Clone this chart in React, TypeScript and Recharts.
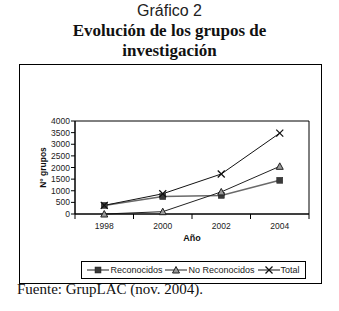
import React from 'react';
import { LineChart, Line, XAxis, YAxis, ReferenceArea, Legend } from 'recharts';

const YEARS = [1998, 2000, 2002, 2004];
const RECONOCIDOS = [370, 750, 800, 1450];
const NO_RECONOCIDOS = [0, 100, 950, 2050];
const TOTAL = [370, 870, 1720, 3480];
const Y_TICKS = [0, 500, 1000, 1500, 2000, 2500, 3000, 3500, 4000];

const SERIES = [
  { key: 'rec', name: 'Reconocidos', color: '#6a6a6a', width: 1.5, marker: 'square' },
  { key: 'norec', name: 'No Reconocidos', color: '#222', width: 1, marker: 'triangle' },
  { key: 'total', name: 'Total', color: '#111', width: 1, marker: 'cross' },
];

const data = YEARS.map((year, i) => ({
  year,
  rec: RECONOCIDOS[i],
  norec: NO_RECONOCIDOS[i],
  total: TOTAL[i],
}));

// year labels sit in the middle of each band, tick marks on the band edges
const X_TICKS: number[] = [];
for (let y = YEARS[0] - 1; y <= YEARS[YEARS.length - 1] + 1; y++) X_TICKS.push(y);

const font = '"Liberation Sans", Arial, sans-serif';

const Marker = ({ kind, cx, cy }: { kind: string; cx: number; cy: number }) => {
  if (kind === 'square') {
    return <rect x={cx - 3} y={cy - 3} width={6} height={6} fill="#3a3a3a" stroke="#222" strokeWidth={0.5} />;
  }
  if (kind === 'triangle') {
    return (
      <polygon
        points={`${cx},${cy - 3.5} ${cx - 3.5},${cy + 3} ${cx + 3.5},${cy + 3}`}
        fill="#999"
        stroke="#222"
        strokeWidth={1}
      />
    );
  }
  return (
    <g stroke="#111" strokeWidth={1.2}>
      <line x1={cx - 3.5} y1={cy - 3.5} x2={cx + 3.5} y2={cy + 3.5} />
      <line x1={cx - 3.5} y1={cy + 3.5} x2={cx + 3.5} y2={cy - 3.5} />
    </g>
  );
};

const XTick = (props: any) => {
  const { x, y, payload } = props;
  if (YEARS.includes(payload.value)) {
    return (
      <text x={x} y={y + 14.5} textAnchor="middle" fontSize={8.5} fontFamily={font} fill="#222">
        {payload.value}
      </text>
    );
  }
  return <line x1={x} y1={y} x2={x} y2={y + 5} stroke="#000" />;
};

const LegendBox = () => (
  <div
    style={{
      border: '1px solid #000',
      width: 223,
      height: 16,
      display: 'flex',
      alignItems: 'center',
      justifyContent: 'center',
      gap: 3,
      fontFamily: font,
      fontSize: 9,
      color: '#222',
      background: '#fff',
    }}
  >
    {SERIES.map((s) => (
      <span key={s.key} style={{ display: 'flex', alignItems: 'center', gap: 1 }}>
        <svg width={22} height={10}>
          <line x1={0} y1={5} x2={22} y2={5} stroke={s.color} strokeWidth={s.width} />
          <Marker kind={s.marker} cx={11} cy={5} />
        </svg>
        {s.name}
      </span>
    ))}
  </div>
);

export default function App() {
  return (
    <div style={{ position: 'absolute', left: 0, top: 0, width: 339, height: 311, background: '#fff' }}>
      <div
        style={{
          position: 'absolute',
          top: 2.5,
          width: 339,
          textAlign: 'center',
          fontFamily: font,
          fontSize: 16,
          lineHeight: '16px',
          color: '#222',
        }}
      >
        Gráfico 2
      </div>
      <div
        style={{
          position: 'absolute',
          top: 21,
          left: 0,
          width: 339,
          textAlign: 'center',
          fontFamily: '"Liberation Serif", "Times New Roman", serif',
          fontWeight: 'bold',
          fontSize: 17,
          lineHeight: '20px',
          color: '#111',
        }}
      >
        Evolución de los grupos de
        <br />
        investigación
      </div>

      <div
        style={{
          position: 'absolute',
          left: 19,
          top: 64,
          width: 301,
          height: 218,
          border: '1px solid #000',
        }}
      />
      <div style={{ position: 'absolute', left: 19, top: 64 }}>
        <LineChart width={303} height={220} data={data} margin={{ top: 57, right: 13, bottom: 0, left: 0 }}>
          <XAxis
            dataKey="year"
            type="number"
            domain={[X_TICKS[0], X_TICKS[X_TICKS.length - 1]]}
            ticks={X_TICKS}
            interval={0}
            tickLine={false}
            tickSize={0}
            tickMargin={0}
            tick={<XTick />}
            axisLine={{ stroke: '#000' }}
            height={70}
            label={{
              value: 'Año',
              position: 'insideTop',
              offset: 0,
              dy: 21,
              fontSize: 9,
              fontWeight: 'bold',
              fontFamily: font,
              fill: '#111',
            }}
          />
          <YAxis
            domain={[0, 4000]}
            ticks={Y_TICKS}
            interval={0}
            width={56}
            tickSize={4}
            tickMargin={1}
            axisLine={{ stroke: '#000' }}
            tickLine={{ stroke: '#000' }}
            tick={{ fontSize: 8.5, fontFamily: font, fill: '#222' }}
            label={{
              value: 'N° grupos',
              angle: -90,
              position: 'insideLeft',
              offset: 0,
              dx: 24,
              fontSize: 8.5,
              fontWeight: 'bold',
              fontFamily: font,
              fill: '#111',
              style: { textAnchor: 'middle' },
            }}
          />
          <ReferenceArea
            x1={X_TICKS[0]}
            x2={X_TICKS[X_TICKS.length - 1]}
            y1={0}
            y2={4000}
            fill="none"
            stroke="#000"
            strokeOpacity={1}
          />
          {SERIES.map((s) => (
            <Line
              key={s.key}
              dataKey={s.key}
              name={s.name}
              stroke={s.color}
              strokeWidth={s.width}
              isAnimationActive={false}
              dot={(p: any) => <Marker key={`${s.key}-${p.index}`} kind={s.marker} cx={p.cx} cy={p.cy} />}
            />
          ))}
          <Legend
            layout="horizontal"
            verticalAlign="middle"
            wrapperStyle={{ top: 197, left: 62, width: 225 }}
            content={() => <LegendBox />}
          />
        </LineChart>
      </div>

      <div
        style={{
          position: 'absolute',
          top: 282,
          left: 17,
          fontFamily: '"Liberation Serif", "Times New Roman", serif',
          fontSize: 15,
          lineHeight: '15px',
          color: '#111',
        }}
      >
        Fuente: GrupLAC (nov. 2004).
      </div>
    </div>
  );
}
